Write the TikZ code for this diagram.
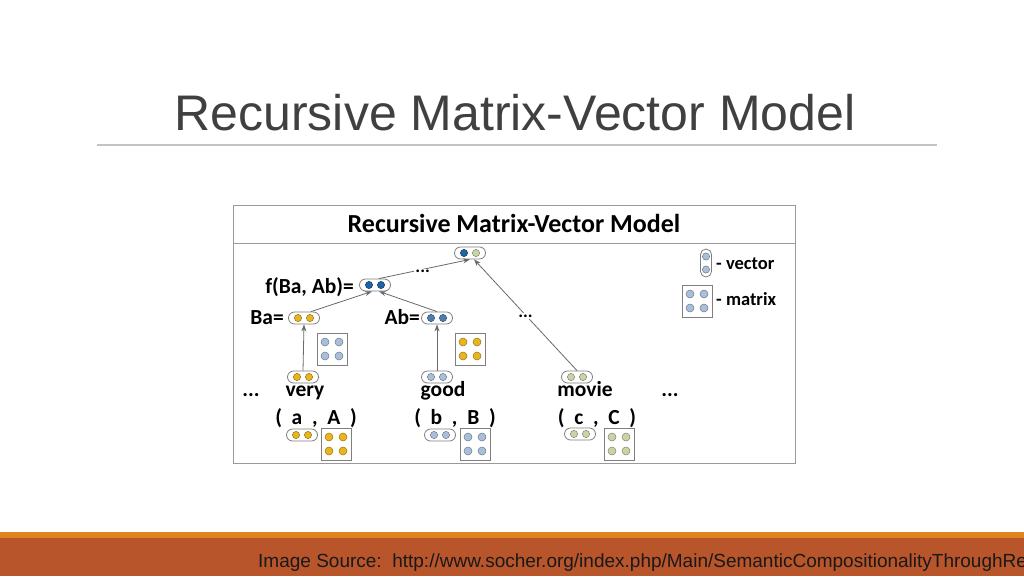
\documentclass[tikz,border=0pt]{standalone}
\usepackage{fontspec}
\setmainfont{Liberation Sans}
\newfontfamily\calfont{Carlito}
\usetikzlibrary{arrows.meta}
\definecolor{titlegray}{HTML}{404040}
\definecolor{linegray}{HTML}{C4C4C4}
\definecolor{boxgray}{HTML}{9A9A9A}
\definecolor{ovalgray}{HTML}{7F7F7F}
\definecolor{arrowgray}{HTML}{6A6A6A}
\definecolor{footorange}{HTML}{E0841E}
\definecolor{footbrown}{HTML}{B9552B}
\definecolor{cyellow}{HTML}{E8B520}
\definecolor{cdblue}{HTML}{1F63A3}
\definecolor{cslate}{HTML}{4F7DB0}
\definecolor{clblue}{HTML}{A9BFD9}
\definecolor{cgreen}{HTML}{C9D2A8}
\newcommand\twodots[3]{%
  \filldraw[fill=#2, draw=#2!65!black, line width=0.5pt] ([xshift=-6pt]#1.center) circle (3.6pt);
  \filldraw[fill=#3, draw=#3!65!black, line width=0.5pt] ([xshift=6pt]#1.center) circle (3.6pt);}
\newcommand\fourdots[2]{%
  \foreach \dx in {-7,7}{\foreach \dy in {-7,7}{%
    \filldraw[fill=#2, draw=#2!65!black, line width=0.5pt] ([xshift=\dx pt,yshift=\dy pt]#1.center) circle (4pt);}}}
\tikzset{
  vecbox/.style={draw=ovalgray, line width=0.8pt, rounded corners=6pt, minimum width=31pt, minimum height=12pt, inner sep=0pt, fill=white},
  matbox/.style={draw=ovalgray, line width=0.8pt, minimum width=30pt, minimum height=32pt, inner sep=0pt, fill=white},
  lbl/.style={font=\calfont\bfseries\fontsize{21.5}{21.5}\selectfont, inner sep=0pt},
  leg/.style={font=\calfont\bfseries\fontsize{18.5}{18.5}\selectfont, inner sep=0pt},
  conn/.style={draw=arrowgray, line width=0.8pt, -{Stealth[length=7pt,width=5pt]}},
  elide/.style={font=\calfont\bfseries\fontsize{18}{18}\selectfont, fill=white, inner sep=1.5pt}
}
\begin{document}
\begin{tikzpicture}[x=1pt,y=-1pt]
\useasboundingbox (0,0) rectangle (1024,576);
\fill[white] (0,0) rectangle (1024,576);
% slide title
\node[font=\fontsize{50}{50}\selectfont, text=titlegray, anchor=base, inner sep=0pt] (title) at (515,130) {Recursive Matrix-Vector Model};
\draw[linegray, line width=1.5pt] (97,145) -- (937,145);
% footer
\fill[footorange] (0,532) rectangle (1024,538);
\fill[footbrown] (0,538) rectangle (1024,576);
\node[font=\fontsize{19}{19}\selectfont, text=black!90, anchor=base west, inner sep=0pt] (src) at (258,567) {Image Source:\ \ http://www.socher.org/index.php/Main/SemanticCompositionalityThroughRe};
% diagram frame
\draw[boxgray, line width=1pt, fill=white] (233,205) rectangle (795,463);
\draw[boxgray, line width=1pt] (233,243) -- (795,243);
\node[font=\calfont\bfseries\fontsize{26}{26}\selectfont, anchor=base, inner sep=0pt] (head) at (514,232) {Recursive Matrix-Vector Model};
% vectors
\node[vecbox] (top) at (470,253) {};
\node[vecbox] (f) at (375,285) {};
\node[vecbox] (ba) at (304,318) {};
\node[vecbox] (ab) at (437,318) {};
\node[matbox] (mba) at (332,349) {};
\node[matbox] (mab) at (470,349) {};
\node[vecbox] (very) at (303,377) {};
\node[vecbox] (good) at (437,377) {};
\node[vecbox] (movie) at (577,377) {};
\node[vecbox] (va) at (302,435) {};
\node[matbox] (ma) at (336,444) {};
\node[vecbox] (vb) at (440,435) {};
\node[matbox] (mb) at (475,444) {};
\node[vecbox] (vc) at (580,434) {};
\node[matbox] (mc) at (619,444) {};
\twodots{top}{cdblue}{cgreen}
\twodots{f}{cdblue}{cdblue}
\twodots{ba}{cyellow}{cyellow}
\twodots{ab}{cslate}{cslate}
\twodots{very}{cyellow}{cyellow}
\twodots{good}{clblue}{clblue}
\twodots{movie}{cgreen}{cgreen}
\twodots{va}{cyellow}{cyellow}
\twodots{vb}{clblue}{clblue}
\twodots{vc}{cgreen}{cgreen}
\fourdots{mba}{clblue}
\fourdots{mab}{cyellow}
\fourdots{ma}{cyellow}
\fourdots{mb}{clblue}
\fourdots{mc}{cgreen}
% labels
\node[lbl, anchor=base east] (lf) at (354,293) {f(Ba, Ab)=};
\node[lbl, anchor=base east] (lba) at (284,324) {Ba=};
\node[lbl, anchor=base east] (lab) at (420,324) {Ab=};
\node[lbl, anchor=base] (wvery) at (305,396) {very};
\node[lbl, anchor=base] (wgood) at (443,396) {good};
\node[lbl, anchor=base] (wmovie) at (585,396) {movie};
\node[lbl, anchor=base] (dl) at (251,396) {...};
\node[lbl, anchor=base] (dr) at (670,396) {...};
\node[lbl, anchor=base] (pa) at (316,424) {(\ \ a\ \ ,\ \ A\ \ )};
\node[lbl, anchor=base] (pb) at (455,424) {(\ \ b\ \ ,\ \ B\ \ )};
\node[lbl, anchor=base] (pc) at (597,424) {(\ \ c\ \ ,\ \ C\ \ )};
% legend
\node[draw=ovalgray, line width=0.8pt, rounded corners=5.5pt, minimum width=11pt, minimum height=28pt, inner sep=0pt, fill=white] (lv) at (706,263) {};
\filldraw[fill=clblue, draw=clblue!65!black, line width=0.5pt] ([yshift=6.5pt]lv.center) circle (3.6pt);
\filldraw[fill=clblue, draw=clblue!65!black, line width=0.5pt] ([yshift=-6.5pt]lv.center) circle (3.6pt);
\node[leg, anchor=base west] (tv) at (716,269) {- vector};
\node[matbox] (lm) at (697,301) {};
\fourdots{lm}{clblue}
\node[leg, anchor=base west] (tm) at (716,305) {- matrix};
% connectors
\draw[conn] (very.north) -- (ba.south);
\draw[conn] (good.north) -- (ab.south);
\draw[conn] ([xshift=7pt]ba.north) -- ([xshift=-3pt]f.south);
\draw[conn] (ab.north) -- ([xshift=4pt]f.south);
\draw[conn] ([xshift=4pt]f.north) -- node[elide, pos=0.48, yshift=-2pt] (e1) {...} (top.south);
\draw[conn] (movie.north) -- node[elide, pos=0.5, yshift=-1pt] (e2) {...} ([xshift=4pt]top.south);
\end{tikzpicture}
\end{document}
